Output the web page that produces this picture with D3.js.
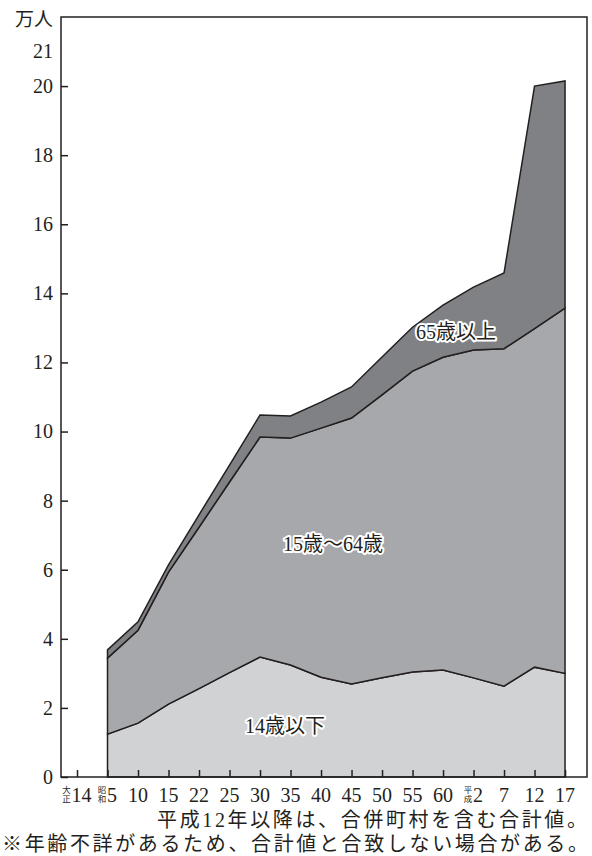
<!DOCTYPE html>
<html>
<head>
<meta charset="utf-8">
<title>年齢別人口の推移</title>
<style>
  body {margin: 0; background: #fff;}
  .halo {stroke: #fff; stroke-width: 4px; paint-order: stroke; stroke-linejoin: round;}
</style>
</head>
<body>
<svg id="chart" width="592" height="856"></svg>
<script src="https://d3js.org/d3.v7.min.js"></script>
<script>
// x categories (年), era prefix shown stacked before the number
var years = ["14", "5", "10", "15", "22", "25", "30", "35", "40", "45", "50", "55", "60", "2", "7", "12", "17"];
var eras  = ["大正", "昭和", "", "", "", "", "", "", "", "", "", "", "", "平成", "", "", ""];

// 万人 (大正14 has no data)
var under15 = [null, 1.24, 1.56, 2.11, 2.56, 3.02, 3.47, 3.24, 2.89, 2.69, 2.87, 3.04, 3.10, 2.87, 2.63, 3.18, 3.00];
var age15to64 = [null, 2.20, 2.69, 3.82, 4.67, 5.52, 6.37, 6.57, 7.21, 7.70, 8.19, 8.71, 9.05, 9.49, 9.77, 9.80, 10.57];
var over65 = [null, 0.24, 0.24, 0.21, 0.36, 0.49, 0.64, 0.64, 0.75, 0.90, 1.10, 1.27, 1.51, 1.82, 2.19, 7.02, 6.58];

var yTicks = [0, 2, 4, 6, 8, 10, 12, 14, 16, 18, 20];
var layerNames = ["14歳以下", "15歳〜64歳", "65歳以上"];
var layerColors = ["#d1d2d4", "#a7a8ab", "#808184"];

var FONT = "'Liberation Serif', 'Noto Sans CJK JP', serif";
var INK = "#231f20";

var svg = d3.select("#chart");
var pL = 61, pR = 587, pT = 17, pB = 777;

var x = d3.scaleLinear().domain([-0.525, 16.72]).range([pL, pR]);
var y = d3.scaleLinear().domain([0, 22]).range([pB, pT]);

var rows = years.map(function(d, i) {
  return {i: i, a: under15[i], b: age15to64[i], c: over65[i]};
});
var stack = d3.stack().keys(["a", "b", "c"]);
var layers = stack(rows.filter(function(d) { return d.a != null; }));

var area = d3.area()
  .x(function(d) { return x(d.data.i); })
  .y0(function(d) { return y(d[0]); })
  .y1(function(d) { return y(d[1]); });

svg.append("g").selectAll("path")
  .data(layers)
  .enter().append("path")
  .attr("d", area)
  .attr("fill", function(d, i) { return layerColors[i]; })
  .attr("stroke", INK)
  .attr("stroke-width", 1.5)
  .attr("stroke-linejoin", "miter");

// frame
svg.append("rect")
  .attr("x", pL).attr("y", pT)
  .attr("width", pR - pL).attr("height", pB - pT)
  .attr("fill", "none").attr("stroke", INK).attr("stroke-width", 1.5);

// y axis
var yAxis = d3.axisLeft(y).tickValues(yTicks).tickSizeInner(-7).tickSizeOuter(0).tickPadding(8);
var gy = svg.append("g").attr("transform", "translate(" + pL + ",0)").call(yAxis)
  .attr("font-family", FONT).attr("font-size", 20);
gy.select(".domain").remove();
gy.selectAll("line").attr("stroke", INK).attr("stroke-width", 1.5);
gy.selectAll("text").attr("fill", INK);
gy.append("text").attr("x", -8).attr("y", y(21)).attr("dy", "0.32em")
  .attr("text-anchor", "end").attr("fill", INK).text("21");

var txt = svg.append("g").attr("font-family", FONT).attr("fill", INK);

txt.append("text").attr("x", 53).attr("y", 26).attr("text-anchor", "end")
  .attr("font-size", 19).text("万人");

// x axis ticks
var xAxis = d3.axisBottom(x).tickValues(d3.range(years.length)).tickSizeInner(-7).tickSizeOuter(0).tickFormat("");
var gx = svg.append("g").attr("transform", "translate(0," + pB + ")").call(xAxis);
gx.select(".domain").remove();
gx.selectAll("line").attr("stroke", INK).attr("stroke-width", 1.5);

// x labels with stacked era prefix
years.forEach(function(lab, i) {
  var g = txt.append("g");
  var num = g.append("text").attr("y", 802).attr("font-size", 20).text(lab);
  var w = num.node().getComputedTextLength();
  var pw = eras[i] ? 9 : 0;
  var x0 = x(i) - (w + pw) / 2;
  num.attr("x", x0 + pw);
  if (eras[i]) {
    eras[i].split("").forEach(function(ch, k) {
      g.append("text").attr("x", x0 + 4).attr("y", 793 + k * 9)
        .attr("text-anchor", "middle").attr("font-size", 8.5).text(ch);
    });
  }
});

// layer labels
var labelPos = [[285, 733], [333, 551], [456, 339]];
layerNames.forEach(function(name, i) {
  txt.append("text").attr("class", "halo")
    .attr("x", labelPos[i][0]).attr("y", labelPos[i][1])
    .attr("text-anchor", "middle").attr("font-size", 20).text(name);
});

// notes
txt.append("text").attr("x", 157).attr("y", 827).attr("font-size", 20)
  .attr("textLength", 430).attr("lengthAdjust", "spacing")
  .text("平成12年以降は、合併町村を含む合計値。");
txt.append("text").attr("x", 2).attr("y", 851).attr("font-size", 20)
  .attr("textLength", 586).attr("lengthAdjust", "spacing")
  .text("※年齢不詳があるため、合計値と合致しない場合がある。");
</script>
</body>
</html>
